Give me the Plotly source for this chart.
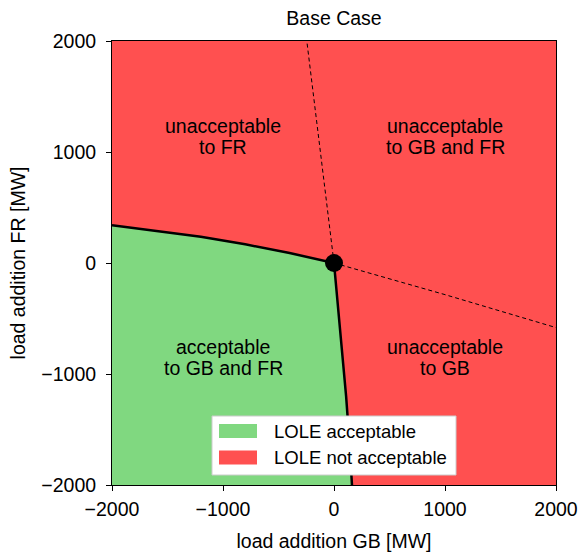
import plotly.graph_objects as go

# ---- data ----
upper_x = [-2000, -1600, -1200, -800, -400, 0]
upper_y = [340, 290, 237, 168, 90, 0]
lower_x = [0, 37, 73, 109, 138, 162]
lower_y = [0, -400, -800, -1200, -1600, -2000]
dash_up_x = [0, -120, -245]
dash_up_y = [0, 1000, 2000]
dash_right_x = [0, 1000, 2000]
dash_right_y = [0, -285, -582]
point_x = [0]
point_y = [0]
region_line1 = ["unacceptable", "unacceptable", "acceptable", "unacceptable"]
region_line2 = ["to FR", "to GB and FR", "to GB and FR", "to GB"]
region_x = [-1000, 1000, -1000, 1000]
region_y = [1140, 1140, -850, -850]
legend_labels = ["LOLE acceptable", "LOLE not acceptable"]
xlim = [-2000, 2000]
ylim = [-2000, 2000]
ticks = [-2000, -1000, 0, 1000, 2000]

GREEN = "#80d880"
RED = "#ff5050"
FONT = "Liberation Sans, Arial, sans-serif"
FS = 19.5
LFS = 18.5

bx = upper_x + lower_x[1:]
by = upper_y + lower_y[1:]

fig = go.Figure()
red_x = bx + [xlim[1], xlim[1], xlim[0], bx[0]]
red_y = by + [ylim[0], ylim[1], ylim[1], by[0]]
fig.add_trace(go.Scatter(x=red_x, y=red_y, fill="toself", fillcolor=RED,
                         mode="none", hoverinfo="skip", showlegend=False))
green_x = [xlim[0]] + bx + [xlim[0]]
green_y = [ylim[0]] + by + [ylim[0]]
fig.add_trace(go.Scatter(x=green_x, y=green_y, fill="toself", fillcolor=GREEN,
                         mode="none", hoverinfo="skip", showlegend=False))
fig.add_trace(go.Scatter(x=dash_up_x, y=dash_up_y, mode="lines",
                         line=dict(color="black", width=1, dash="4px,3px"), showlegend=False))
fig.add_trace(go.Scatter(x=dash_right_x, y=dash_right_y, mode="lines",
                         line=dict(color="black", width=1, dash="4px,3px"), showlegend=False))
fig.add_trace(go.Scatter(x=bx, y=by, mode="lines",
                         line=dict(color="black", width=2.5), showlegend=False))
fig.add_trace(go.Scatter(x=point_x, y=point_y, mode="markers",
                         marker=dict(color="black", size=18), showlegend=False))

for l1, l2, x, y in zip(region_line1, region_line2, region_x, region_y):
    fig.add_annotation(x=x, y=y, text=l1, showarrow=False, xanchor="center",
                       yanchor="middle", yshift=10.5,
                       font=dict(family=FONT, size=FS, color="black"))
    fig.add_annotation(x=x, y=y, text=l2, showarrow=False, xanchor="center",
                       yanchor="middle", yshift=-10.5,
                       font=dict(family=FONT, size=FS, color="black"))

# manual legend (matplotlib style)
L, R, B, T = 112, 556, 485, 41
W, H = R - L, B - T
def px(x): return (x - L) / W
def py(y): return (B - y) / H
fig.add_shape(type="rect", xref="paper", yref="paper",
              x0=px(212), x1=px(456), y0=py(475), y1=py(416),
              fillcolor="white", line=dict(color="#cccccc", width=1), layer="above")
for i, (lab, col) in enumerate(zip(legend_labels, [GREEN, RED])):
    yc = 431 + i * 26.5
    fig.add_shape(type="rect", xref="paper", yref="paper",
                  x0=px(219), x1=px(257), y0=py(yc + 7), y1=py(yc - 7),
                  fillcolor=col, line=dict(width=0), layer="above")
    fig.add_annotation(xref="paper", yref="paper", x=px(272), y=py(yc), text=lab,
                       showarrow=False, xanchor="left", yanchor="middle",
                       font=dict(family=FONT, size=LFS, color="black"))

axis_common = dict(tickvals=ticks, ticks="outside", ticklen=5, tickwidth=1.2,
                   tickcolor="black", showline=True, linecolor="black", linewidth=1,
                   mirror=True, showgrid=False, zeroline=False, automargin=False,
                   tickfont=dict(family=FONT, size=FS, color="black"))
fig.update_xaxes(**axis_common)
fig.update_yaxes(**axis_common)
fig.update_xaxes(range=xlim, ticklabelstandoff=2,
                 title=dict(text="load addition GB [MW]", standoff=14,
                            font=dict(family=FONT, size=FS, color="black")))
fig.update_yaxes(range=ylim, ticklabelstandoff=6,
                 title=dict(text="load addition FR [MW]", standoff=10,
                            font=dict(family=FONT, size=FS, color="black")))

fig.update_layout(
    width=579, height=556, autosize=False,
    margin=dict(l=L, r=579 - R, t=T, b=556 - B, pad=0),
    paper_bgcolor="white", plot_bgcolor="white",
    title=dict(text="Base Case", x=px(334), xref="paper", xanchor="center",
               y=1 - 18 / 556, yref="container", yanchor="middle",
               font=dict(family=FONT, size=FS, color="black")),
    font=dict(family=FONT, size=FS, color="black"),
)
fig.write_html("out.html")
